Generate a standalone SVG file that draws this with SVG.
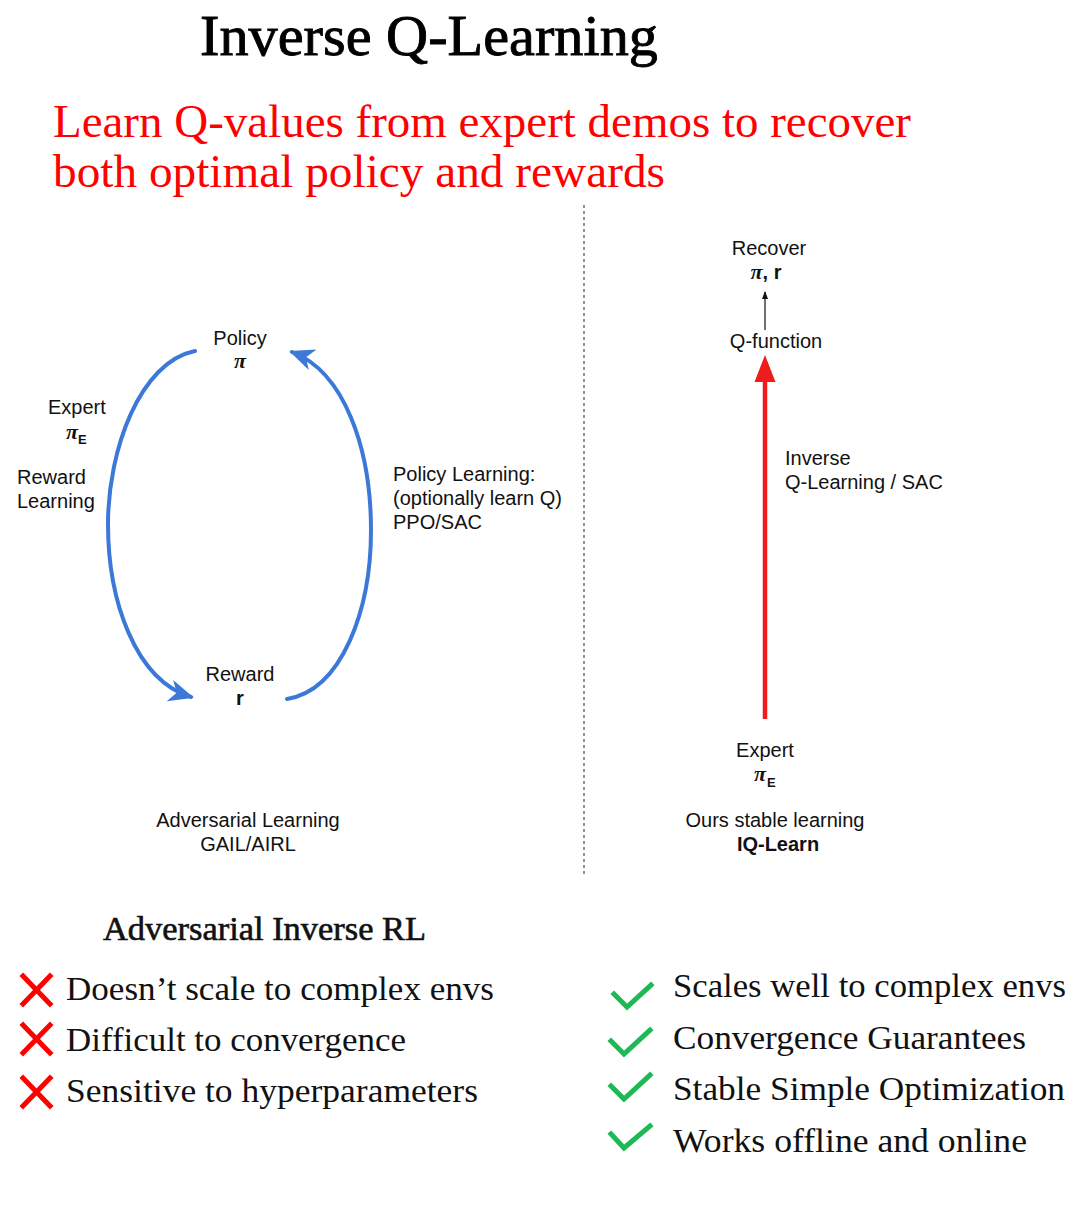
<svg xmlns="http://www.w3.org/2000/svg" width="1076" height="1208" viewBox="0 0 1076 1208">
<style>
.serif{font-family:"Liberation Serif","Times New Roman",serif}
.sans{font-family:"Liberation Sans",Arial,sans-serif;font-size:20px;fill:#111}
.pi{font-family:"Liberation Serif","Times New Roman",serif;font-weight:bold;font-style:italic;font-size:22px;fill:#111}
.sub{font-family:"Liberation Sans",Arial,sans-serif;font-weight:bold;font-size:13px;fill:#111}
.list{font-family:"Liberation Serif","Times New Roman",serif;font-size:34px;fill:#111}
.blue{fill:none;stroke:#3c78d8;stroke-width:4;stroke-linecap:round}
.xmark{stroke:#ff0000;stroke-width:5;stroke-linecap:square}
.check{fill:none;stroke:#1db954;stroke-width:5;stroke-linecap:square;stroke-linejoin:miter}
</style>
<defs>
<marker id="blueHead" markerUnits="userSpaceOnUse" markerWidth="28" markerHeight="28" viewBox="0 0 28 28" refX="22" refY="14" orient="auto">
<path d="M0,3 L25,14 L0,25 L7,14 z" fill="#3c78d8"/>
</marker>
<marker id="smallHead" markerUnits="userSpaceOnUse" markerWidth="8" markerHeight="8" viewBox="0 0 8 8" refX="7" refY="4" orient="auto">
<path d="M0,1 L8,4 L0,7 z" fill="#111"/>
</marker>
</defs>
<rect width="1076" height="1208" fill="#ffffff"/>

<g id="title">
<text class="serif" x="200" y="55" font-size="58" fill="#000" stroke="#000" stroke-width="0.9" textLength="458" lengthAdjust="spacingAndGlyphs">Inverse Q-Learning</text>
</g>
<g id="subtitle">
<text class="serif" x="53" y="137" font-size="47" fill="#ff0000" textLength="858" lengthAdjust="spacingAndGlyphs">Learn Q-values from expert demos to recover</text>
<text class="serif" x="53" y="187" font-size="47" fill="#ff0000" textLength="612" lengthAdjust="spacingAndGlyphs">both optimal policy and rewards</text>
</g>

<g id="divider">
<line x1="584" y1="205" x2="584" y2="876" stroke="#555" stroke-width="1.3" stroke-dasharray="3,3"/>
</g>

<g id="connectors">
<path class="blue" d="M195,351 C140,362 108,450 108,524 C108,600 135,680 191,697" marker-end="url(#blueHead)"/>
<path class="blue" d="M287,699 C342,690 371,610 371,530 C371,450 345,372 292,352" marker-end="url(#blueHead)"/>
<line x1="765" y1="330" x2="765" y2="292" stroke="#111" stroke-width="1.2" marker-end="url(#smallHead)"/>
<line x1="765" y1="719" x2="765" y2="378" stroke="#ee1c1c" stroke-width="4.5"/>
<polygon points="765,355 754.5,382 775.5,382" fill="#ee1c1c"/>
</g>

<g id="node-policy">
<text class="sans" x="240" y="345" text-anchor="middle">Policy</text>
<text class="pi" x="240" y="368" text-anchor="middle">π</text>
</g>
<g id="node-reward">
<text class="sans" x="240" y="681" text-anchor="middle">Reward</text>
<text class="sans" x="240" y="705" text-anchor="middle" font-weight="bold">r</text>
</g>
<g id="label-expert-left">
<text class="sans" x="48" y="414">Expert</text>
<text class="pi" x="66" y="439">π</text>
<text class="sub" x="78" y="444">E</text>
</g>
<g id="label-reward-learning">
<text class="sans" x="17" y="484">Reward</text>
<text class="sans" x="17" y="508">Learning</text>
</g>
<g id="label-policy-learning">
<text class="sans" x="393" y="481">Policy Learning:</text>
<text class="sans" x="393" y="505">(optionally learn Q)</text>
<text class="sans" x="393" y="529">PPO/SAC</text>
</g>
<g id="caption-left">
<text class="sans" x="248" y="827" text-anchor="middle">Adversarial Learning</text>
<text class="sans" x="248" y="851" text-anchor="middle">GAIL/AIRL</text>
</g>

<g id="node-recover">
<text class="sans" x="769" y="255" text-anchor="middle">Recover</text>
<text x="766" y="279" text-anchor="middle"><tspan class="pi">π</tspan><tspan class="sans" font-weight="bold">, r</tspan></text>
</g>
<g id="node-qfunction">
<text class="sans" x="776" y="348" text-anchor="middle">Q-function</text>
</g>
<g id="label-inverse">
<text class="sans" x="785" y="465">Inverse</text>
<text class="sans" x="785" y="489">Q-Learning / SAC</text>
</g>
<g id="node-expert-right">
<text class="sans" x="765" y="757" text-anchor="middle">Expert</text>
<text class="pi" x="760" y="781" text-anchor="middle">π</text>
<text class="sub" x="767" y="787">E</text>
</g>
<g id="caption-right">
<text class="sans" x="775" y="827" text-anchor="middle">Ours stable learning</text>
<text class="sans" x="778" y="851" text-anchor="middle" font-weight="bold">IQ-Learn</text>
</g>

<g id="cons">
<text class="serif" x="103" y="940" font-size="33" fill="#111" stroke="#111" stroke-width="0.6" textLength="323" lengthAdjust="spacingAndGlyphs">Adversarial Inverse RL</text>
<path class="xmark" d="M23,976 L50,1004 M50,976 L23,1004"/>
<path class="xmark" d="M23,1025 L50,1053 M50,1025 L23,1053"/>
<path class="xmark" d="M23,1078 L50,1106 M50,1078 L23,1106"/>
<text class="list" x="66" y="1000" textLength="428" lengthAdjust="spacingAndGlyphs">Doesn’t scale to complex envs</text>
<text class="list" x="66" y="1051" textLength="340" lengthAdjust="spacingAndGlyphs">Difficult to convergence</text>
<text class="list" x="66" y="1102" textLength="412" lengthAdjust="spacingAndGlyphs">Sensitive to hyperparameters</text>
</g>

<g id="pros">
<path class="check" d="M614,994 L627,1007 L651,985"/>
<path class="check" d="M611,1041 L624,1054 L650,1030"/>
<path class="check" d="M611,1086 L624,1099 L650,1075"/>
<path class="check" d="M611,1134 L624,1148 L650,1126"/>
<text class="list" x="673" y="997" textLength="393" lengthAdjust="spacingAndGlyphs">Scales well to complex envs</text>
<text class="list" x="673" y="1049" textLength="353" lengthAdjust="spacingAndGlyphs">Convergence Guarantees</text>
<text class="list" x="673" y="1100" textLength="392" lengthAdjust="spacingAndGlyphs">Stable Simple Optimization</text>
<text class="list" x="673" y="1152" textLength="354" lengthAdjust="spacingAndGlyphs">Works offline and online</text>
</g>
</svg>
